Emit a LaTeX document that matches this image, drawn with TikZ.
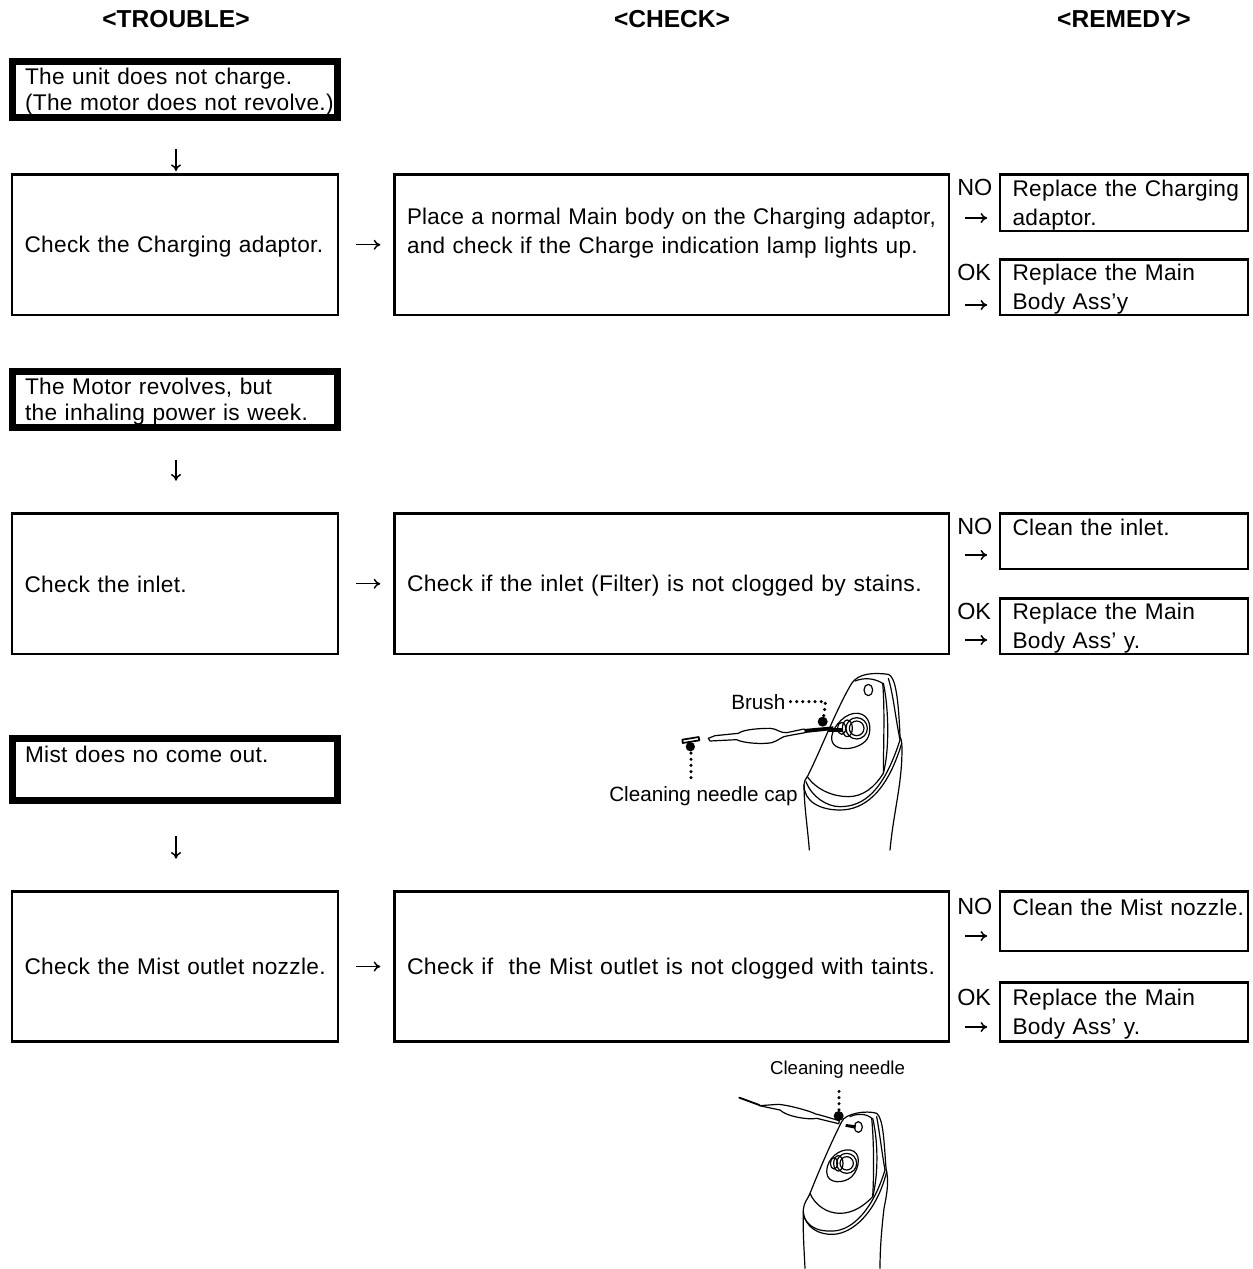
\documentclass[tikz,border=0pt]{standalone}
\usepackage{fontspec}
\usepackage{graphicx}
\setmainfont[LetterSpace=1.4,WordSpace=1.25]{Liberation Sans}
\newfontfamily\plainfont{Liberation Sans}
\usetikzlibrary{arrows.meta,calc}
\newcommand\lstrut{\rule[-3pt]{0pt}{18.5pt}}
\newcommand\tl[1]{\mbox{\lstrut#1}}
\newcommand\tlw[2]{\mbox{\lstrut\resizebox{#1}{\height}{#2}}}
\tikzset{
 x=.75pt,y=-.75pt,
 boxbase/.style={draw=black,rectangle,inner sep=0pt,align=left},
 thinbox/.style={boxbase,line width=2.2pt,font=\fontsize{17pt}{21.7pt}\selectfont},
 thickbox/.style={boxbase,line width=5pt,font=\fontsize{17pt}{19.5pt}\selectfont},
 flowarrow/.style={line width=1.1pt,-{To[length=5pt,width=7.5pt]}},
 head/.style={inner sep=0pt,font=\plainfont\bfseries\fontsize{18.4pt}{20pt}\selectfont},
 tag/.style={inner sep=0pt,anchor=base west,font=\plainfont\fontsize{17.5pt}{20pt}\selectfont},
 partlabel/.style={inner sep=0pt,anchor=base west,font=\plainfont\fontsize{15.5pt}{18pt}\selectfont},
 partline/.style={line width=.9pt,line join=round,line cap=round},
 dotline/.style={line width=2.6pt,line cap=round,dash pattern=on 0pt off 4.6pt},
}
% \bx{name}{style}{x0}{y0}{x1}{y1}{text}
\newcommand\bx[7]{%
 \pgfmathsetmacro\boxw{(#5-#3)*.75}\pgfmathsetmacro\boxh{(#6-#4)*.75}\pgfmathsetmacro\boxt{(#5-#3-25)*.75}%
 \node[#2,minimum width=\boxw pt,minimum height=\boxh pt,text width=\boxt pt] (#1) at ({(#3+#5)/2},{(#4+#6)/2}) {#7};}
\begin{document}
\begin{tikzpicture}
\useasboundingbox (0,0) rectangle (1252,1269);
\node[head] (h1) at (176,19) {<TROUBLE>};
\node[head] (h2) at (672,19) {<CHECK>};
\node[head] (h3) at (1124,19) {<REMEDY>};
% trouble boxes
\bx{t1}{thickbox}{12.5}{61.5}{337.5}{117.5}{\tl{The unit does not charge.}\\\tl{(The motor does not revolve.)}}
\bx{t2}{thickbox}{12.5}{371.5}{337.5}{427.5}{\tl{The Motor revolves, but}\\\tl{the inhaling power is week.}}
\bx{t3}{thickbox}{12.5}{738.5}{337.5}{800.5}{\tl{Mist does no come out.}\\[3.5pt]\tl{}}
% check boxes
\bx{c1}{thinbox}{12}{174.5}{338}{315}{\tl{Check the Charging adaptor.}}
\bx{c2}{thinbox}{12}{513.5}{338}{654}{\tl{Check the inlet.}}
\bx{c3}{thinbox}{12}{891.5}{338}{1041.5}{\tl{Check the Mist outlet nozzle.}}
\bx{d1}{thinbox}{394.5}{174.5}{949}{315}{\tlw{396.75pt}{Place a normal Main body on the Charging adaptor,}\\\tlw{383pt}{and check if the Charge indication lamp lights up.}\\\tl{}}
\bx{d2}{thinbox}{394.5}{513.5}{949}{654}{\tlw{386pt}{Check if the inlet (Filter) is not clogged by stains.}}
\bx{d3}{thinbox}{394.5}{891.5}{949}{1041.5}{\tlw{396pt}{Check if\ \ the Mist outlet is not clogged with taints.}}
% remedy boxes
\bx{r1}{thinbox}{1000}{174.5}{1248}{231}{\tl{Replace the Charging}\\\tl{adaptor.}}
\bx{r2}{thinbox}{1000}{259.5}{1248}{315}{\tl{Replace the Main}\\\tl{Body Ass'y}}
\bx{r3}{thinbox}{1000}{513.5}{1248}{569}{\tl{Clean the inlet.}\\\tl{}}
\bx{r4}{thinbox}{1000}{598.5}{1248}{654}{\tl{Replace the Main}\\\tl{Body Ass' y.}}
\bx{r5}{thinbox}{1000}{891.5}{1248}{951}{\tl{Clean the Mist nozzle.}\\\tl{}}
\bx{r6}{thinbox}{1000}{982.5}{1248}{1041.5}{\tl{Replace the Main}\\\tl{Body Ass' y.}}
% flow arrows
\coordinate (ax) at (176,0);
\draw[flowarrow,shorten <=21.5pt,shorten >=1.5pt] (t1.south -| ax) -- (c1.north -| ax);
\draw[flowarrow,shorten <=21.5pt,shorten >=23.5pt] (t2.south -| ax) -- (c2.north -| ax);
\draw[flowarrow,shorten <=24pt,shorten >=23.5pt] (t3.south -| ax) -- (c3.north -| ax);
\draw[flowarrow,shorten <=12.5pt,shorten >=9.5pt] (c1) -- (d1);
\draw[flowarrow,shorten <=12.5pt,shorten >=9.5pt] (c2) -- (d2);
\draw[flowarrow,shorten <=12.5pt,shorten >=9.5pt] (c3) -- (d3);
% NO/OK
\node[tag] (n1) at (957,196) {NO};
\node[tag] (o1) at (957,281) {OK};
\node[tag] (n2) at (957,534) {NO};
\node[tag] (o2) at (957,619) {OK};
\node[tag] (n3) at (957,914) {NO};
\node[tag] (o3) at (957,1005) {OK};
\foreach \cn/\rn/\yy in {a1/r1/218,a2/r2/305,a3/r3/555,a4/r4/640,a5/r5/936,a6/r6/1027}{
 \coordinate (\cn) at (965,\yy);
 \draw[flowarrow,shorten >=8.5pt] (\cn) -- (\cn -| \rn.west);
}
% device 1
\begin{scope}[x=.25pt,y=-.25pt,shift={(450pt,-498.75pt)},partline]
\draw (628,555) .. controls (622,480) and (612,420) .. (612,360) .. controls (612,350) and (615,345) .. (622,335)
  .. controls (660,260) and (710,130) .. (755,55) .. controls (775,25) and (820,22) .. (865,28)
  .. controls (885,35) and (895,90) .. (900,215) .. controls (908,230) and (906,260) .. (905,290) .. controls (900,380) and (880,450) .. (870,555);
\draw (612,360) .. controls (612,410) and (660,435) .. (720,435) .. controls (790,435) and (860,385) .. (905,235);
\draw (618,350) .. controls (635,395) and (680,425) .. (720,425) .. controls (790,425) and (850,380) .. (900,225);
\draw (622,335) .. controls (650,375) and (700,395) .. (745,395) .. controls (790,395) and (825,365) .. (850,325);
\draw (765,48) .. controls (790,38) and (820,38) .. (848,55) .. controls (855,130) and (850,260) .. (850,325);
\draw (865,40) .. controls (880,90) and (885,150) .. (900,225);
\draw (850,55) .. controls (865,120) and (870,250) .. (850,325);
\draw (805,75) ellipse (13 and 17);
\draw (695,215) .. controls (700,180) and (740,140) .. (775,145) .. controls (810,150) and (815,190) .. (805,215) .. controls (790,255) and (690,270) .. (695,215);
\draw (770,190) circle (32);\draw (770,190) circle (22);
\draw (742,190) ellipse (15 and 25);\draw (725,190) ellipse (12 and 18);
\fill (685,188) rectangle (725,200);
% brush
\draw (325,220) -- (345,212) -- (415,205) .. controls (430,193) and (480,190) .. (510,190) .. controls (530,190) and (540,205) .. (560,203) -- (612,192);
\draw (325,220) -- (330,228) -- (410,224) .. controls (430,235) and (490,238) .. (515,233) .. controls (535,228) and (545,213) .. (565,212) -- (615,203);
\fill (612,192) -- (700,184) -- (700,195) -- (615,204) -- cycle;
% cap
\draw[line width=1.3pt] (247,224) -- (296,216) -- (298,226) -- (248,234) -- cycle;
\fill (271,245) circle (14);
\fill (668,170) circle (15);
\end{scope}
\coordinate (brushdot) at (823,722);
\coordinate (capdot) at (691,747);
\node[partlabel] (brush) at (731,709) {Brush};
\node[partlabel] (capl) at (609,801) {Cleaning needle cap};
\draw[dotline] (brush.east) ++(5,0) -- ++(35,0) -- (brushdot);
\draw[dotline,shorten >=4pt] (capdot) -- (capdot |- capl.north);
% device 2
\begin{scope}[x=.25pt,y=-.25pt,shift={(547.5pt,-791.25pt)},partline]
\draw (225,640) .. controls (222,580) and (218,520) .. (220,465) .. controls (222,440) and (232,435) .. (240,415)
  .. controls (270,340) and (300,270) .. (335,200) .. controls (345,175) and (410,165) .. (440,175)
  .. controls (460,190) and (462,260) .. (468,340) .. controls (478,380) and (470,420) .. (462,460) .. controls (455,520) and (450,580) .. (450,640);
\draw (220,470) .. controls (225,520) and (270,540) .. (310,538) .. controls (370,535) and (440,470) .. (470,350);
\draw (224,490) .. controls (240,520) and (270,530) .. (310,528) .. controls (370,525) and (430,460) .. (465,345);
\draw (240,415) .. controls (255,450) and (290,475) .. (330,475) .. controls (370,475) and (405,450) .. (428,425);
\draw (360,185) .. controls (380,175) and (410,175) .. (425,190) .. controls (432,260) and (432,360) .. (428,425);
\draw (440,185) .. controls (450,240) and (455,290) .. (465,345);
\draw (428,190) .. controls (445,260) and (445,360) .. (428,425);
\draw (385,216) ellipse (12 and 16);
\draw (290,350) .. controls (290,310) and (330,280) .. (360,285) .. controls (395,290) and (390,340) .. (365,365) .. controls (345,385) and (290,390) .. (290,350);
\draw (350,325) circle (30);\draw (350,325) circle (20);
\draw (325,325) ellipse (14 and 23);\draw (312,325) ellipse (11 and 17);
\fill (348,207) -- (378,211) -- (376,221) -- (346,215) -- cycle;
% needle
\draw (88,152) -- (145,148) .. controls (170,150) and (210,160) .. (240,170) .. controls (255,175) and (260,180) .. (270,180) -- (328,197) -- (326,206) -- (260,190) .. controls (235,195) and (170,185) .. (150,165) -- (88,152);
\draw[line width=1.4pt] (28,128) -- (88,150);
\fill (326,183) circle (15);
\end{scope}
\node[partlabel,anchor=center,font=\plainfont\fontsize{14pt}{17pt}\selectfont] (needle) at (837.5,1070) {Cleaning needle};
\coordinate (needledot) at (839,1116);
\draw[dotline,shorten >=6pt] (needledot) -- (needledot |- needle.south);
\end{tikzpicture}
\end{document}
